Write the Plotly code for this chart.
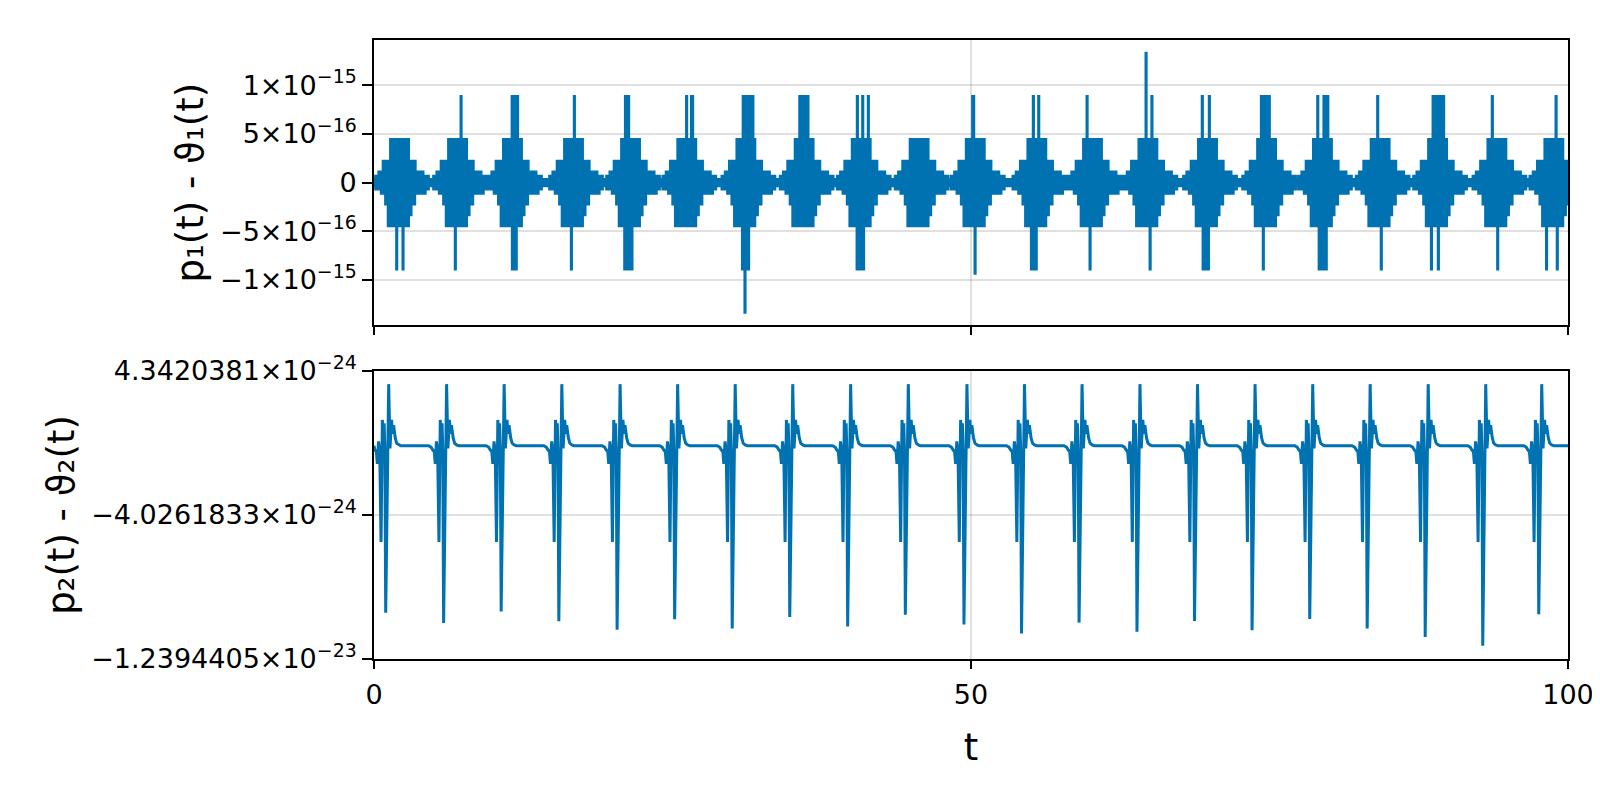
import numpy as np
import plotly.graph_objects as go

BLUE = "#0072B2"
EPS = 2.220446049250313e-16  # unit of the top-panel levels

# ---------------- top panel : p1(t) - θ1(t) ----------------
# centres of the error bursts (t)
BURST_T = [2.12, 6.98, 11.58, 16.69, 21.47, 26.18, 31.13, 36.01, 40.79, 45.64, 50.34,
           55.50, 60.16, 64.80, 69.79, 74.74, 79.42, 84.25, 89.06, 94.03, 98.80]
# envelope of one burst: offset from burst centre (t) -> level (units of eps)
UP_OFF = [-2.15, -2.00, -1.73, -1.37, -0.75, 0.78, 1.34, 2.00, 2.45]
UP_LEV = [0.15, 0.30, 0.50, 1.00, 2.00, 1.00, 0.50, 0.30, 0.15]
LO_OFF = [-2.15, -2.00, -1.53, -1.17, -0.95, 0.78, 1.00, 1.30, 2.18, 2.45]
LO_LEV = [-0.15, -0.30, -0.50, -1.00, -2.00, -1.50, -1.00, -0.50, -0.30, -0.15]
# isolated excursions: (t start, t end, level in eps)
SPIKES = [
    (7.27, 7.31, 4), (11.55, 12.04, 4), (16.76, 16.80, 4), (21.04, 21.34, 4),
    (26.16, 26.20, 4), (26.57, 26.70, 4), (30.90, 31.75, 4), (35.64, 36.36, 4),
    (40.46, 40.50, 4), (40.91, 40.95, 4), (41.38, 41.42, 4), (50.12, 50.24, 4),
    (55.20, 55.24, 4), (55.65, 55.69, 4), (59.70, 59.74, 4), (64.64, 64.68, 6),
    (65.13, 65.17, 4), (69.35, 69.39, 4), (69.94, 69.98, 4), (74.30, 75.00, 4),
    (79.02, 79.06, 4), (79.54, 79.90, 4), (84.04, 84.08, 4), (88.68, 89.05, 4),
    (89.12, 89.60, 4), (93.64, 93.68, 4), (98.98, 99.02, 4),
    (1.88, 1.92, -4), (2.41, 2.45, -4), (6.79, 6.83, -4), (11.57, 11.93, -4),
    (16.51, 16.55, -4), (20.98, 21.62, -4), (30.84, 31.39, -4), (31.05, 31.09, -6),
    (40.44, 41.02, -4), (50.32, 50.36, -4.2), (55.04, 55.48, -4), (59.95, 59.99, -4),
    (64.98, 65.02, -4), (69.42, 69.90, -4), (74.46, 74.50, -4), (79.14, 79.77, -4),
    (84.34, 84.38, -4), (88.54, 88.58, -4), (89.12, 89.16, -4), (94.09, 94.13, -4),
    (98.18, 98.22, -4), (99.08, 99.12, -4),
]

# ---------------- bottom panel : p2(t) - θ2(t) ----------------
EVENT_T = [0.98, 5.83, 10.65, 15.48, 20.36, 25.18, 30.00, 34.82, 39.67, 44.50, 49.41,
           54.23, 59.05, 63.90, 68.72, 73.54, 78.37, 83.18, 88.04, 92.86, 97.55]
EVENT_MIN = [-9.71, -10.30, -9.63, -10.20, -10.70, -10.09, -10.62, -9.95, -10.51, -9.82,
             -10.39, -10.91, -10.28, -10.81, -10.18, -10.72, -10.07, -10.62, -11.12,
             -11.63, -9.80]  # x 1e-24
# shape of one event: offset (t) -> value (x 1e-24); None = the event minimum
EV_OFF = [-1.26, -1.05, -0.90, -0.78, -0.70, -0.60, -0.50, -0.39, -0.28, -0.20, -0.13,
          -0.07, 0.00, 0.25, 0.36, 0.49, 0.57, 0.66, 0.80, 0.92, 1.09, 1.26]
EV_VAL = [0.0, -0.08, -0.25, -0.35, -1.05, 0.25, -0.3, -5.6, 1.5, 0.3, 1.3,
          -0.3, None, 3.58, -0.15, 1.5, 0.7, 1.2, 0.45, 0.15, 0.05, 0.0]

T_TICKS = [0, 50, 100]
Y1_TICKS = [-1e-15, -5e-16, 0, 5e-16, 1e-15]
Y1_TEXT = ["−1×10<sup>−15</sup>", "−5×10<sup>−16</sup>", "0",
           "5×10<sup>−16</sup>", "1×10<sup>−15</sup>"]
Y2_TICKS = [-1.2394405e-23, -4.0261833e-24, 4.3420381e-24]
Y2_TEXT = ["−1.2394405×10<sup>−23</sup>", "−4.0261833×10<sup>−24</sup>",
           "4.3420381×10<sup>−24</sup>"]

# ---- build top envelopes ----
grid = np.round(np.arange(0.0, 100.0 + 1e-9, 0.005), 6)
centres = np.array(BURST_T)
k = np.abs(grid[:, None] - centres[None, :] - 0.265).argmin(axis=1)
off = grid - centres[k]
iu = np.clip(np.searchsorted(UP_OFF, off, side="right") - 1, 0, len(UP_OFF) - 1)
il = np.clip(np.searchsorted(LO_OFF, off, side="right") - 1, 0, len(LO_OFF) - 1)
up = np.array(UP_LEV, dtype=float)[iu]
lo = np.array(LO_LEV, dtype=float)[il]
for t0, t1, lev in SPIKES:
    m = (grid >= t0) & (grid <= t1)
    if lev > 0:
        up[m] = np.maximum(up[m], lev)
    else:
        lo[m] = np.minimum(lo[m], lev)


def steps(x, y):
    keep = np.r_[True, y[1:] != y[:-1]]
    keep[-1] = True
    return x[keep], y[keep]


xu, yu = steps(grid, up)
xl, yl = steps(grid, lo)
top_max = max(np.abs(yu).max(), np.abs(yl).max()) * EPS
y1_range = [-top_max * 1.1, top_max * 1.1]

# ---- build bottom series ----
x2, y2 = [0.0], [0.0]
for tc, dmin in zip(EVENT_T, EVENT_MIN):
    for o, v in zip(EV_OFF, EV_VAL):
        t = tc + o
        if t <= 0 or t >= 100:
            continue
        x2.append(t)
        y2.append((dmin if v is None else v) * 1e-24)
x2.append(100.0)
y2.append(0.0)

fig = go.Figure()
fig.add_trace(go.Scatter(x=xl, y=yl * EPS, mode="lines", xaxis="x", yaxis="y",
                         line=dict(color=BLUE, width=2.6, shape="hv"),
                         showlegend=False, hoverinfo="skip"))
fig.add_trace(go.Scatter(x=xu, y=yu * EPS, mode="lines", xaxis="x", yaxis="y",
                         line=dict(color=BLUE, width=2.6, shape="hv"),
                         fill="tonexty", fillcolor=BLUE,
                         showlegend=False, hoverinfo="skip"))
fig.add_trace(go.Scatter(x=x2, y=y2, mode="lines", xaxis="x2", yaxis="y2",
                         line=dict(color=BLUE, width=3.0),
                         showlegend=False, hoverinfo="skip"))

FONT = "DejaVu Sans"
GRID = "rgba(0,0,0,0.12)"
common_x = dict(range=[0, 100], tickvals=T_TICKS, showline=True, mirror=True,
                linecolor="black", linewidth=1.8, ticks="outside", ticklen=8,
                tickwidth=1.8, tickcolor="black", showgrid=True, gridcolor=GRID,
                gridwidth=1.5, zeroline=False, ticklabelstandoff=3,
                tickfont=dict(family=FONT, size=27, color="black"))
common_y = dict(showline=True, mirror=True, linecolor="black", linewidth=1.8,
                ticks="outside", ticklen=10, tickwidth=1.5, tickcolor="black",
                showgrid=True, gridcolor=GRID, gridwidth=1.5, zeroline=False,
                tickfont=dict(family=FONT, size=27, color="black"))

y2_lo, y2_hi = Y2_TICKS[0], Y2_TICKS[-1]
pad = (y2_hi - y2_lo) * 1e-6

fig.update_layout(
    width=1600, height=800,
    paper_bgcolor="white", plot_bgcolor="white",
    margin=dict(l=366, r=40, t=24, b=149),
    font=dict(family=FONT, color="black"),
    xaxis=dict(domain=[0, 1], anchor="y", showticklabels=False, **common_x),
    xaxis2=dict(domain=[0, 1], anchor="y2", matches="x",
                title=dict(text="t", font=dict(family=FONT, size=37), standoff=25),
                **common_x),
    yaxis=dict(domain=[0.5391, 1], anchor="x", range=y1_range,
               tickvals=Y1_TICKS, ticktext=Y1_TEXT,
               title=dict(text="p₁(t) - ϑ₁(t)", font=dict(family=FONT, size=37),
                          standoff=5),
               **common_y),
    yaxis2=dict(domain=[0, 0.4652], anchor="x2", range=[y2_lo - pad, y2_hi + pad],
                tickvals=Y2_TICKS, ticktext=Y2_TEXT,
                title=dict(text="p₂(t) - ϑ₂(t)", font=dict(family=FONT, size=37),
                           standoff=5),
                **common_y),
)

fig.write_html("out.html")
